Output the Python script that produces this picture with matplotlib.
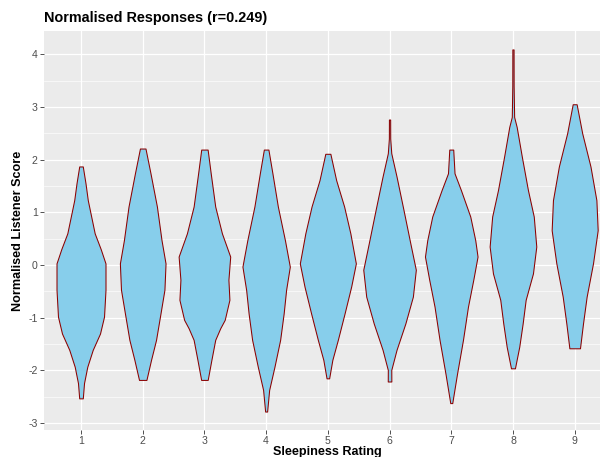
import numpy as np
import matplotlib
matplotlib.use('Agg')
import matplotlib.pyplot as plt

# sleepiness ratings on the x axis
ratings = [1, 2, 3, 4, 5, 6, 7, 8, 9]

# violin outlines: score levels and half widths (x units)
score_levels = [
    [1.87, 1.55, 1.23, 0.60, 0.30, 0.03, -0.47, -0.98, -1.30, -1.61, -1.93, -2.24, -2.53],
    [2.21, 1.74, 1.11, 0.47, 0.03, -0.47, -0.92, -1.42, -1.80, -2.18],
    [2.19, 1.74, 1.11, 0.60, 0.16, -0.28, -0.66, -1.04, -1.20, -1.42, -1.80, -2.18],
    [2.19, 1.74, 1.11, 0.47, -0.03, -0.47, -0.92, -1.42, -1.93, -2.37, -2.78],
    [2.11, 1.61, 1.11, 0.60, 0.03, -0.41, -0.92, -1.42, -1.80, -2.15],
    [2.76, 2.40, 2.12, 1.68, 1.04, 0.41, -0.09, -0.60, -1.11, -1.61, -1.99, -2.21],
    [2.19, 1.74, 1.42, 0.92, 0.47, 0.16, -0.28, -0.79, -1.42, -2.06, -2.62],
    [4.09, 3.40, 2.81, 2.62, 2.06, 1.42, 0.92, 0.35, -0.16, -0.66, -1.11, -1.55, -1.96],
    [3.05, 2.50, 1.87, 1.23, 0.66, 0.03, -0.60, -1.11, -1.58],
]
half_widths = [
    [0.029, 0.073, 0.110, 0.222, 0.320, 0.397, 0.397, 0.373, 0.308, 0.190, 0.102, 0.049, 0.029],
    [0.045, 0.126, 0.230, 0.305, 0.370, 0.352, 0.288, 0.216, 0.135, 0.060],
    [0.052, 0.102, 0.175, 0.284, 0.418, 0.389, 0.405, 0.329, 0.256, 0.175, 0.113, 0.053],
    [0.037, 0.102, 0.190, 0.305, 0.384, 0.324, 0.284, 0.227, 0.135, 0.049, 0.016],
    [0.041, 0.135, 0.264, 0.365, 0.454, 0.378, 0.271, 0.162, 0.073, 0.021],
    [0.010, 0.011, 0.028, 0.113, 0.227, 0.337, 0.426, 0.378, 0.256, 0.113, 0.028, 0.029],
    [0.032, 0.053, 0.157, 0.308, 0.389, 0.426, 0.357, 0.271, 0.190, 0.094, 0.016],
    [0.010, 0.011, 0.019, 0.060, 0.143, 0.243, 0.337, 0.378, 0.324, 0.206, 0.157, 0.102, 0.032],
    [0.032, 0.122, 0.256, 0.352, 0.373, 0.297, 0.194, 0.135, 0.086],
]

y_ticks = [-3, -2, -1, 0, 1, 2, 3, 4]

plt.rcParams['font.family'] = ['Liberation Sans', 'DejaVu Sans']

fig = plt.figure(figsize=(6, 4.57), dpi=100)
# panel runs past the right edge like in the cropped original
ax = fig.add_axes([0.0733, 0.0591, 0.9462, 0.8731])
ax.set_facecolor('#EBEBEB')

for r, lv, hw in zip(ratings, score_levels, half_widths):
    lv = np.array(lv)
    hw = np.array(hw)
    ax.fill_betweenx(lv, r - hw, r + hw, facecolor='#87CEEB',
                     edgecolor='#8B0000', linewidth=0.75, joinstyle='round', zorder=3)

ax.set_xlim(0.4, 9.6)
ax.set_ylim(-3.13, 4.44)
ax.set_xticks(ratings)
ax.set_xticklabels([str(r) for r in ratings])
ax.set_yticks(y_ticks)
ax.set_yticklabels([str(t) for t in y_ticks])
ax.set_yticks(np.arange(-2.5, 4.0, 1.0), minor=True)

ax.grid(which='major', color='white', linewidth=0.9, zorder=0)
ax.grid(which='minor', axis='y', color='white', linewidth=0.45, zorder=0)
ax.set_axisbelow(True)
for s in ax.spines.values():
    s.set_visible(False)

ax.tick_params(axis='both', which='major', length=3, width=0.6, color='#333333',
               labelsize=7.6, labelcolor='#4D4D4D', pad=1.5)
ax.tick_params(axis='y', which='minor', length=0)

ax.set_xlabel('Sleepiness Rating', fontsize=9.1, fontweight='bold')
ax.xaxis.set_label_coords(0.5, -0.039)
ax.set_ylabel('Normalised Listener Score', fontsize=9.1, fontweight='bold')
ax.yaxis.set_label_coords(-0.036, 0.5)

fig.text(44 / 600, 1 - 18 / 457, 'Normalised Responses (r=0.249)',
         fontsize=10.4, fontweight='bold', ha='left', va='center')

fig.savefig('out.png', dpi=100)
